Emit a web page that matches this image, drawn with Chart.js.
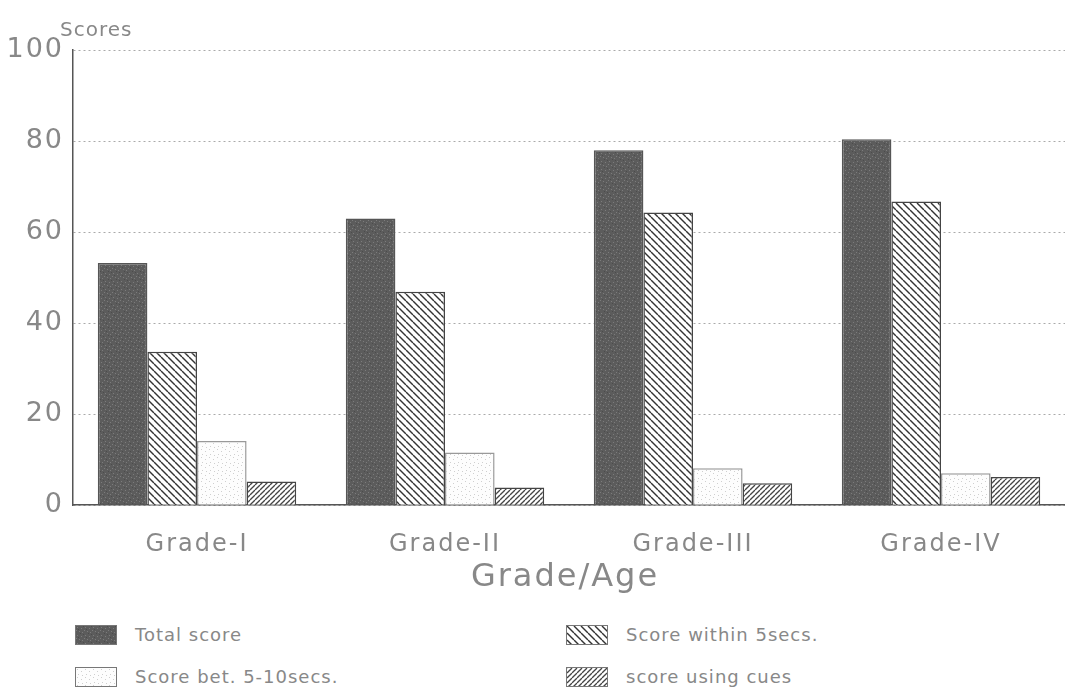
<!DOCTYPE html>
<html>
<head>
<meta charset="utf-8">
<script src="https://cdn.jsdelivr.net/npm/chart.js@4/dist/chart.umd.min.js"></script>
<style>
  html, body { margin: 0; padding: 0; background: #fff; }
  body { width: 1065px; height: 697px; position: relative; overflow: hidden; font-family: "DejaVu Sans", sans-serif; }
  #wrap { position: absolute; left: 0; top: 0; width: 1065px; height: 610px; }
  .leg { position: absolute; display: flex; align-items: center; color: #888; font-size: 18px; letter-spacing: 1px; }
  .leg canvas { border: 1.5px solid #777; margin-right: 18px; }
</style>
</head>
<body>
<div id="wrap"><canvas id="c"></canvas></div>
<div class="leg" style="left:75px; top:624px;"><canvas id="l0" width="40" height="18"></canvas><span>Total score</span></div>
<div class="leg" style="left:566px; top:624px;"><canvas id="l1" width="40" height="18"></canvas><span>Score within 5secs.</span></div>
<div class="leg" style="left:75px; top:666px;"><canvas id="l2" width="40" height="18"></canvas><span>Score bet. 5-10secs.</span></div>
<div class="leg" style="left:566px; top:666px;"><canvas id="l3" width="40" height="18"></canvas><span>score using cues</span></div>
<script>
const categories = ["Grade-I", "Grade-II", "Grade-III", "Grade-IV"];
const seriesNames = ["Total score", "Score within 5secs.", "Score bet. 5-10secs.", "score using cues"];
const totalScore = [53.2, 63.0, 78.0, 80.4];
const within5 = [33.7, 46.9, 64.3, 66.7];
const bet5to10 = [14.1, 11.6, 8.1, 7.0];
const usingCues = [5.2, 3.9, 4.8, 6.2];
const yTicks = [0, 20, 40, 60, 80, 100];
const yAxisLabel = "Scores";
const xAxisLabel = "Grade/Age";

function makePattern(kind) {
  const s = kind === 'cues' ? 5 : (kind === 'within' ? 7 : 8);
  const c = document.createElement('canvas');
  c.width = s; c.height = s;
  const g = c.getContext('2d');
  if (kind === 'total') {
    g.fillStyle = '#5c5c5c'; g.fillRect(0, 0, s, s);
    g.fillStyle = '#7c7c7c';
    [[1,1],[5,2],[3,5],[6,6],[0,4]].forEach(p => g.fillRect(p[0], p[1], 1, 1));
    g.fillStyle = '#4c4c4c';
    [[2,3],[7,0],[4,7]].forEach(p => g.fillRect(p[0], p[1], 1, 1));
  } else if (kind === 'within') {
    g.fillStyle = '#fff'; g.fillRect(0, 0, s, s);
    g.strokeStyle = '#333'; g.lineWidth = 1.4;
    for (let o = -s; o <= s; o += s) {
      g.beginPath(); g.moveTo(o, 0); g.lineTo(o + s, s); g.stroke();
    }
  } else if (kind === 'bet') {
    g.fillStyle = '#fdfdfd'; g.fillRect(0, 0, s, s);
    g.fillStyle = '#cfcfcf';
    [[1,1],[5,3],[2,6],[6,7]].forEach(p => g.fillRect(p[0], p[1], 1, 1));
  } else {
    g.fillStyle = '#fff'; g.fillRect(0, 0, s, s);
    g.strokeStyle = '#444'; g.lineWidth = 1.3;
    for (let o = -s; o <= s; o += s) {
      g.beginPath(); g.moveTo(o, s); g.lineTo(o + s, 0); g.stroke();
    }
  }
  return c;
}
const kinds = ['total', 'within', 'bet', 'cues'];
const mainCtx = document.getElementById('c').getContext('2d');
const patterns = kinds.map(k => mainCtx.createPattern(makePattern(k), 'repeat'));
kinds.forEach((k, i) => {
  const lc = document.getElementById('l' + i).getContext('2d');
  lc.fillStyle = lc.createPattern(makePattern(k), 'repeat');
  lc.fillRect(0, 0, 40, 18);
});

const seriesData = [totalScore, within5, bet5to10, usingCues];
const borderCols = ['#555', '#444', '#999', '#444'];
const FONT = '"DejaVu Sans", sans-serif';

const labelsPlugin = {
  id: 'labelsPlugin',
  beforeDraw(chart) { chart.ctx.letterSpacing = '2px'; },
  afterDraw(chart) {
    const g = chart.ctx;
    const a = chart.chartArea;
    g.save();
    g.letterSpacing = '1px';
    g.fillStyle = '#888';
    g.font = '20px ' + FONT;
    g.textBaseline = 'alphabetic';
    g.textAlign = 'left';
    g.fillText(yAxisLabel, 60, 36);
    g.letterSpacing = '2px';
    g.font = '32px ' + FONT;
    g.textAlign = 'center';
    g.textBaseline = 'middle';
    g.fillText(xAxisLabel, 565, 578);
    g.restore();
  }
};

new Chart(mainCtx, {
  type: 'bar',
  data: {
    labels: categories,
    datasets: seriesNames.map((n, i) => ({
      label: n,
      data: seriesData[i],
      backgroundColor: patterns[i],
      borderColor: borderCols[i],
      borderWidth: 1.5,
      borderSkipped: 'bottom',
      categoryPercentage: 0.8,
      barPercentage: 1.0
    }))
  },
  options: {
    responsive: true,
    maintainAspectRatio: false,
    animation: false,
    layout: { padding: { left: 0, right: 0, top: 50, bottom: 26 } },
    plugins: { legend: { display: false }, tooltip: { enabled: false } },
    scales: {
      x: {
        grid: { display: false, drawTicks: false },
        border: { display: true, color: '#555', width: 1.5 },
        ticks: { color: '#888', font: { size: 24, family: FONT }, padding: 25 }
      },
      y: {
        min: 0, max: 100,
        afterBuildTicks(scale) { scale.ticks = yTicks.map(v => ({ value: v })); },
        afterFit(scale) { scale.width = 73; },
        grid: { color: '#aaa', lineWidth: 1, drawTicks: false },
        border: { display: true, color: '#555', width: 1.5, dash: [2, 3] },
        ticks: { color: '#888', font: { size: 27, family: FONT }, padding: 9 }
      }
    }
  },
  plugins: [labelsPlugin]
});
</script>
</body>
</html>
